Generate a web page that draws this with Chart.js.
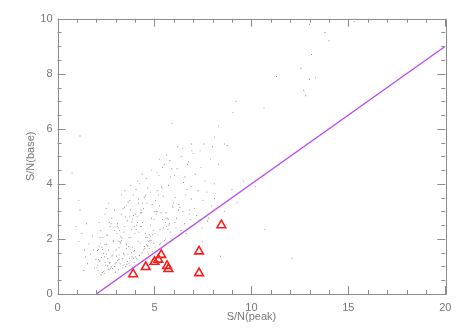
<!DOCTYPE html>
<html>
<head>
<meta charset="utf-8">
<script src="https://cdn.jsdelivr.net/npm/chart.js@4"></script>
<style>
  body { margin: 0; background: #fff; }
  canvas { display: block; }
</style>
</head>
<body>
<canvas id="snChart" width="463" height="331"></canvas>
<script>
// axis labels
const xTitle = "S/N(peak)";
const yTitle = "S/N(base)";

// small gray dots: [S/N(peak), S/N(base)]
const dots = [
  [0.75,4.4],[1.16,5.74],[1.1,3.4],[1.16,3.05],[0.95,2.45],[1.1,1.9],[1.4,1.6],[1.45,1.35],[1.8,2.1],[1.25,2.2],
  [1.55,1.1],[1.7,1.45],[1.9,0.95],[1.62,1.82],[1.35,0.85],[1.98,1.25],[1.85,1.6],[1.5,2.55],
  [2.31,0.78],[2.07,1.05],[2.63,1.6],[2.15,2.6],[2.84,0.92],[2.42,1.35],[2.19,2.05],[2.25,0.7],[2.71,1.15],[2.52,1.8],
  [2.09,0.85],[2.93,2.3],[2.58,1.02],[2.36,1.48],[2.77,0.98],[2.45,2.9],[2.12,1.25],[2.66,0.88],[2.29,1.7],[2.97,1.1],
  [2.55,2.12],[2.03,0.95],[2.81,1.38],[2.64,3.3],[2.38,0.82],[2.89,1.9],[2.18,1.2],[2.72,2.45],[2.49,1.05],[2.06,1.58],
  [2.61,0.9],[2.8,2.75],[2.27,1.32],[2.95,1.0],[2.34,2.05],[2.53,1.45],[2.74,0.93],[2.14,1.75],[2.94,3.05],[2.46,1.15],
  [2.23,2.3],[2.87,1.95],[2.59,1.28],[2.11,1.62],[2.41,0.75],[2.68,2.6],[2.99,0.8],[2.33,1.62],[2.76,2.55],[2.57,2.15],
  [2.86,1.42],[2.51,3.1],[2.21,1.85],[2.69,1.12],[2.44,1.8],
  [3.37,0.95],[3.81,1.5],[3.06,2.2],[3.58,1.08],[3.29,2.9],[3.93,1.3],[3.14,0.88],[3.66,1.72],[3.47,2.45],[3.03,1.15],
  [3.72,3.4],[3.21,1.9],[3.89,0.98],[3.44,1.42],[3.6,2.65],[3.11,1.22],[3.78,2.05],[3.52,1.0],[3.38,3.1],[3.97,1.58],
  [3.19,2.3],[3.68,1.12],[3.26,1.85],[3.48,3.75],[3.85,1.35],[3.09,2.55],[3.74,1.02],[3.33,2.0],[3.55,1.65],[3.91,2.85],
  [3.16,1.25],[3.64,3.35],[3.41,1.48],[3.99,2.2],[3.23,1.1],[3.57,1.78],[3.83,2.62],[3.05,1.38],[3.78,3.95],[3.3,1.95],
  [3.62,1.18],[3.13,2.4],[3.94,1.55],[3.45,3.15],[3.71,1.3],[3.27,2.1],[3.86,1.7],[3.5,2.8],[3.18,1.42],[3.69,2.05],
  [3.02,1.6],[3.54,1.82],[3.87,2.72],[3.35,1.28],[3.12,1.92],[3.76,3.05],[3.42,2.25],[3.96,1.15],[3.24,1.88],[3.31,3.6],
  [3.83,2.35],[3.08,2.45],[3.91,3.6],[3.63,1.45],[3.39,1.05],[3.17,1.68],[3.73,2.8],[3.57,3.2],[3.28,2.05],[3.98,2.45],
  [4.41,1.2],[4.07,2.5],[4.73,1.65],[4.18,3.3],[4.03,1.35],[4.62,2.05],[4.14,4.1],[4.36,1.5],[4.85,2.75],[4.26,1.85],
  [4.57,3.6],[4.09,1.28],[4.94,2.3],[4.48,1.72],[4.31,3.05],[4.69,1.45],[4.12,2.6],[4.36,4.35],[4.77,1.95],[4.22,1.4],
  [4.88,3.25],[4.53,2.2],[4.45,1.6],[4.02,2.9],[4.66,3.85],[4.91,1.55],[4.34,2.45],[4.59,1.8],[4.17,3.45],[4.81,2.1],
  [4.5,1.65],[4.98,2.7],[4.24,4.0],[4.71,1.9],[4.43,3.1],[4.06,2.35],[4.64,1.75],[4.29,2.95],[4.79,3.7],[4.55,2.05],
  [4.96,1.85],[4.39,2.6],[4.86,4.5],[4.2,2.25],[4.61,3.3],[4.83,1.95],[4.11,2.8],[4.52,3.55],[4.75,2.15],[4.33,2.95],
  [4.47,3.5],[4.58,4.2],[4.92,2.15],[4.67,1.75],[4.15,1.9],[4.8,2.5],[4.38,3.3],[4.99,3.0],[4.05,3.8],[4.27,2.45],
  [5.04,1.7],[5.47,2.4],[5.21,3.6],[5.88,1.95],[5.13,4.4],[5.66,2.75],[5.31,1.85],[5.92,3.2],[5.02,2.2],[5.25,4.9],
  [5.77,2.55],[5.39,3.85],[5.57,2.0],[5.11,3.0],[5.84,4.25],[5.29,2.35],[5.52,1.95],[5.06,3.4],[5.71,2.7],[5.5,4.7],
  [5.18,2.15],[5.95,3.15],[5.36,3.9],[5.63,2.45],[5.63,5.05],[5.08,2.9],[5.45,3.55],[5.81,2.25],[5.23,4.3],[5.56,2.6],
  [5.98,3.3],[5.8,4.85],[5.34,2.95],[5.69,2.35],[5.14,3.75],[5.9,4.55],[5.42,2.7],[5.27,3.2],[5.75,2.5],[5.6,2.95],
  [5.42,4.6],[5.86,2.0],[5.17,3.0],[5.73,3.95],[5.27,1.8],
  [6.42,2.3],[6.07,3.5],[6.71,4.7],[6.14,2.75],[6.88,3.9],[6.2,5.35],[6.55,2.55],[6.31,3.15],[6.03,4.3],[6.79,2.9],
  [6.38,5.0],[6.62,3.6],[6.11,2.4],[6.5,4.05],[6.93,5.2],[6.26,3.25],[6.84,2.7],[6.17,4.55],[6.68,3.8],[6.45,5.3],
  [6.06,2.6],[6.91,3.45],[6.35,2.3],[6.57,4.25],[6.9,5.45],[6.24,3.05],[6.76,4.8],[6.64,2.2],[6.47,3.0],[6.85,2.45],
  [7.0,5.1],[7.05,3.1],[7.1,4.35],[7.18,2.85],[7.25,3.75],[7.35,5.2],[7.4,4.6],[7.45,2.4],[7.35,2.7],[7.5,3.4],
  [7.6,4.1],[7.7,3.7],[7.8,2.75],[7.9,4.9],[7.95,3.2],[7.55,5.45],[7.73,2.65],[7.47,1.9],[6.83,3.05],
  [8.0,5.35],[8.1,5.7],[8.3,6.1],[8.6,5.45],[8.75,5.4],[8.3,4.7],[8.1,4.0],[8.1,3.47],[9.0,3.8],[9.27,3.33],
  [8.4,1.37],[10.7,2.35],[12.1,1.3],[9.2,7.0],[9.05,6.6],[10.65,6.75],[5.9,6.2],[11.3,7.9],[12.56,8.2],[12.7,7.4],
  [12.8,7.2],[13.0,7.8],[13.3,7.85],[13.0,9.8],[13.8,9.5],[14.0,9.2],[13.1,8.7],[15.3,9.9],[8.6,3.0],[9.6,4.1],[10.2,3.9]
];

// red triangles
const triX = [3.9, 4.55, 5.0, 5.2, 5.35, 5.65, 5.72, 7.3, 7.3, 8.45];
const triY = [0.72, 0.98, 1.17, 1.25, 1.42, 1.02, 0.91, 1.55, 0.76, 2.5];

// purple cut line
const cutX = [2, 20];
const cutY = [0, 9];

const axisGray = "#8c8c8c";

// frame with inward major/minor ticks on all four sides
const frameTicks = {
  id: "frameTicks",
  afterDatasetsDraw(chart) {
    const { ctx, chartArea: a, scales } = chart;
    const xs = scales.x, ys = scales.y;
    ctx.save();
    ctx.strokeStyle = axisGray;
    ctx.lineWidth = 1;
    ctx.beginPath();
    ctx.rect(Math.round(a.left) + 0.5, Math.round(a.top) + 0.5,
      Math.round(a.right - a.left), Math.round(a.bottom - a.top));
    for (let v = 0; v <= 20; v += 1) {
      const px = Math.round(xs.getPixelForValue(v)) + 0.5;
      const len = v % 5 === 0 ? 8 : 4;
      ctx.moveTo(px, a.bottom); ctx.lineTo(px, a.bottom - len);
      ctx.moveTo(px, a.top); ctx.lineTo(px, a.top + len);
    }
    for (let v = 0; v <= 10; v += 0.5) {
      const py = Math.round(ys.getPixelForValue(v)) + 0.5;
      const len = v % 2 === 0 ? 8 : 4;
      ctx.moveTo(a.left, py); ctx.lineTo(a.left + len, py);
      ctx.moveTo(a.right, py); ctx.lineTo(a.right - len, py);
    }
    ctx.stroke();
    ctx.restore();
  }
};

Chart.defaults.font.family = "'Liberation Sans', 'DejaVu Sans', sans-serif";
Chart.defaults.font.size = 11;
Chart.defaults.color = "#777";

new Chart(document.getElementById("snChart"), {
  type: "scatter",
  data: {
    datasets: [
      {
        label: "sources",
        data: dots.map((d) => ({ x: d[0], y: d[1] })),
        pointStyle: "rect",
        pointRadius: 0.6,
        backgroundColor: "#707070",
        borderWidth: 0
      },
      {
        type: "line",
        label: "cut",
        data: cutX.map((x, i) => ({ x: x, y: cutY[i] })),
        borderColor: "#b94cf5",
        borderWidth: 1.4,
        pointRadius: 0,
        fill: false
      },
      {
        label: "selected",
        data: triX.map((x, i) => ({ x: x, y: triY[i] })),
        pointStyle: "triangle",
        pointRadius: 5,
        borderColor: "#ff1a1a",
        borderWidth: 1.6,
        backgroundColor: "rgba(255,255,255,0)"
      }
    ]
  },
  options: {
    responsive: false,
    animation: false,
    layout: { padding: { left: 20, right: 17.7, top: 18.7, bottom: 3.7 } },
    plugins: { legend: { display: false }, tooltip: { enabled: false } },
    scales: {
      x: {
        type: "linear",
        min: 0,
        max: 20,
        grid: { display: false, drawTicks: false },
        border: { display: false },
        ticks: { stepSize: 5, padding: 7, maxRotation: 0 },
        title: { display: true, text: xTitle, padding: { top: 4, bottom: 4 } },
        afterFit: (scale) => { scale.height = 33.3; }
      },
      y: {
        type: "linear",
        min: 0,
        max: 10,
        grid: { display: false, drawTicks: false },
        border: { display: false },
        ticks: { stepSize: 2, padding: 5 },
        title: { display: true, text: yTitle, padding: { top: 4, bottom: 4 } },
        afterFit: (scale) => { scale.width = 37.5; }
      }
    }
  },
  plugins: [frameTicks]
});
</script>
</body>
</html>
